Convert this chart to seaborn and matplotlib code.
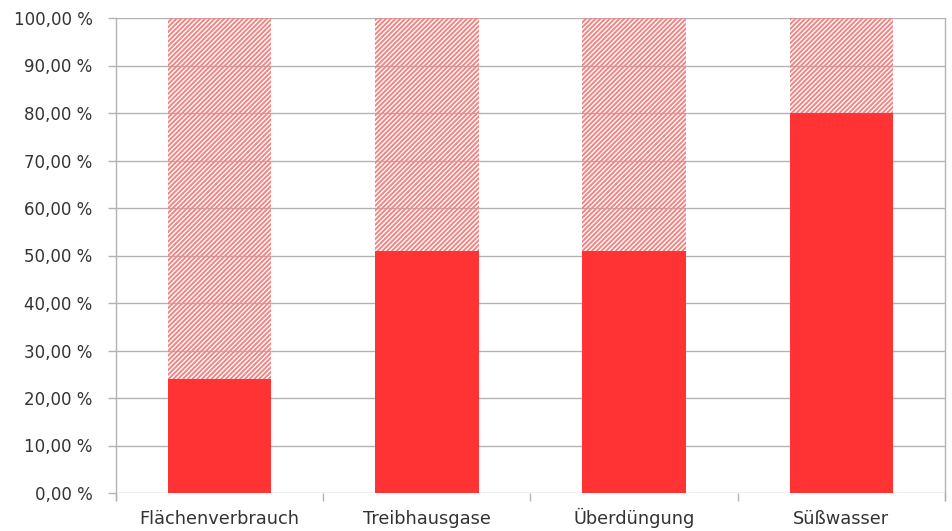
import matplotlib
matplotlib.use("Agg")
import matplotlib.pyplot as plt
from matplotlib.ticker import FuncFormatter, FixedLocator
import seaborn as sns
import pandas as pd

# Anteil je Bereich (in Prozent) und volle Skala als Hintergrund
kategorien = ["Flächenverbrauch", "Treibhausgase", "Überdüngung", "Süßwasser"]
anteile = [24.0, 51.0, 51.0, 80.0]
gesamt = [100.0, 100.0, 100.0, 100.0]
y_ticks = [0, 10, 20, 30, 40, 50, 60, 70, 80, 90, 100]

df = pd.DataFrame({"Kategorie": kategorien, "Anteil": anteile, "Gesamt": gesamt})

sns.set_theme(style="white")
plt.rcParams["font.family"] = ["DejaVu Sans"]
plt.rcParams["hatch.linewidth"] = 1.4

fig = plt.figure(figsize=(9.53, 5.31), dpi=100)
ax = fig.add_axes([116 / 953, 1 - 493 / 531, (945 - 116) / 953, (493 - 18) / 531])

grid_col = "#b3b3b3"
text_col = "#333333"

# schraffierter Hintergrundbalken bis 100 %
sns.barplot(data=df, x="Kategorie", y="Gesamt", ax=ax, color="white",
            width=0.5, saturation=1, zorder=2)
for p in ax.patches:
    p.set_facecolor("none")
    p.set_edgecolor("#f28484")
    p.set_hatch("///////")
    p.set_linewidth(0)
n_bg = len(ax.patches)

# ausgefüllter Balken mit dem tatsächlichen Anteil
sns.barplot(data=df, x="Kategorie", y="Anteil", ax=ax, color="#ff3333",
            width=0.5, saturation=1, zorder=3)
for p in ax.patches[n_bg:]:
    p.set_facecolor("#ff3333")
    p.set_edgecolor("#ff3333")
    p.set_linewidth(0)

ax.set_xlim(-0.5, len(kategorien) - 0.5)
ax.set_ylim(0, 100)
ax.set_xlabel("")
ax.set_ylabel("")

ax.yaxis.set_major_locator(FixedLocator(y_ticks))
ax.yaxis.set_major_formatter(FuncFormatter(lambda v, _: f"{v:.2f} %".replace(".", ",")))
ax.yaxis.grid(True, color=grid_col, linewidth=1.0, zorder=0)
ax.set_axisbelow(True)

# Trennstriche zwischen den Kategorien
ax.set_xticks([i - 0.5 for i in range(len(kategorien) + 1)], minor=True)
ax.tick_params(axis="x", which="minor", length=6, width=1, color=grid_col, direction="out", bottom=True)
ax.tick_params(axis="x", which="major", length=0, pad=22, labelsize=12.8, labelcolor=text_col)
for t in ax.get_xticklabels():
    t.set_verticalalignment("baseline")
ax.tick_params(axis="y", which="major", length=6, width=1, color=grid_col, direction="out",
               left=True, pad=11, labelsize=12, labelcolor=text_col)

for side in ["top", "bottom"]:
    ax.spines[side].set_visible(False)
for side in ["left", "right"]:
    ax.spines[side].set_visible(True)
    ax.spines[side].set_color(grid_col)
    ax.spines[side].set_linewidth(1.0)
    ax.spines[side].set_bounds(-1.5, 100)

fig.savefig("out.png", dpi=100)
